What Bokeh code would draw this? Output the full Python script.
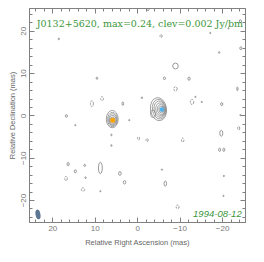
from bokeh.plotting import figure
from bokeh.models import Range1d, LinearAxis, Label, FixedTicker, CustomLabelingPolicy
from bokeh.embed import file_html
from bokeh.resources import INLINE

# ---------------- data (mas) ----------------
title_text = "J0132+5620, max=0.24, clev=0.002 Jy/bm"
date_text = "1994-08-12"
tick_values = [20, 10, 0, -10, -20]
tick_labels = ["20", "10", "0", "\u221210", "\u221220"]

# source A (orange marker) nested contour levels
srcA_x = [6.0, 5.95, 5.9, 5.9, 5.9, 5.9]
srcA_y = [-0.75, -0.85, -0.9, -1.0, -1.05, -1.05]
srcA_w = [2.8, 2.3, 1.9, 1.5, 1.1, 0.7]
srcA_h = [4.1, 3.4, 2.8, 2.2, 1.6, 1.0]
srcA_peak = (5.9, -1.05)

# source B (blue marker) nested contour levels
srcB_x = [-4.9, -5.05, -5.2, -5.35, -5.5, -5.6, -5.7, -3.6]
srcB_y = [1.6, 1.6, 1.6, 1.55, 1.5, 1.5, 1.5, 0.5]
srcB_w = [3.8, 3.2, 2.7, 2.2, 1.7, 1.2, 0.8, 1.2]
srcB_h = [5.5, 4.7, 3.9, 3.1, 2.4, 1.7, 1.0, 1.8]
srcB_peak = (-5.7, 1.5)

# low-level noise contours: solid (positive) and dashed (negative)
pos_x = [18.6, -17.1, -19.2, -8.9, 9.6, -6.3, -12.1, -23.5, 3.5, -1.0, -15.1, -19.8,
         16.8, 2.0, 14.7, 6.2, 6.2, -19.7, -19.3, -20.3, 16.4, 14.7, 12.5, 8.8, 12.3,
         4.2, 3.1, -5.7, -6.5, 8.8, -20.3, -20.2, -2.4, -24.2, -21.4, -24.3, -24.2, -13.6]
pos_y = [18.2, 19.6, 15.0, 11.8, 8.9, 8.9, 8.8, 6.4, 2.9, 4.3, 3.3, 2.8,
         0.0, -1.0, -2.2, -4.5, -7.0, -4.1, -8.0, -8.0, -11.4, -13.1, -11.7, -12.3, -14.6,
         -13.6, -15.7, -12.7, -16.0, -17.8, -14.2, -18.9, 25.3, 22.4, 20.7, 16.0, 0.2, 4.5]
pos_w = [0.3, 0.3, 0.3, 1.3, 0.4, 0.5, 0.5, 0.3, 0.4, 0.3, 0.3, 0.5,
         0.5, 0.3, 0.3, 0.3, 0.3, 0.7, 0.45, 0.45, 0.5, 0.5, 0.4, 0.9, 0.3,
         0.6, 0.6, 0.3, 0.6, 0.3, 0.3, 0.3, 0.6, 0.5, 0.3, 0.5, 0.3, 0.3]
pos_h = [0.4, 0.3, 0.4, 1.4, 0.5, 0.6, 0.8, 0.9, 0.8, 0.4, 0.3, 0.7,
         0.6, 0.3, 0.3, 0.4, 0.4, 1.4, 0.8, 0.8, 0.8, 0.7, 0.5, 2.7, 0.4,
         0.9, 0.8, 0.3, 1.2, 0.3, 0.3, 0.3, 0.8, 0.7, 0.3, 0.7, 0.3, 0.3]

neg_x = [-5.5, -8.9, 8.4, 10.8, -12.8, -0.2, -2.2, -10.6, 16.9, 12.9, -9.4, -23.8]
neg_y = [18.9, 6.4, 4.1, 2.9, 3.3, -5.3, -5.7, -5.7, -14.8, -17.4, -21.5, -2.9]
neg_w = [0.5, 0.8, 0.7, 0.7, 0.8, 0.5, 0.5, 0.6, 0.6, 0.8, 0.7, 0.5]
neg_h = [0.7, 1.0, 0.9, 1.4, 1.2, 0.7, 0.7, 0.9, 1.0, 0.8, 0.9, 0.8]

# restoring beam
beam_x = [23.5]
beam_y = [-23.3]
beam_w = [1.0]
beam_h = [2.2]

# ---------------- figure ----------------
GREY = "#808080"
p = figure(frame_width=216, frame_height=214, output_backend="svg", toolbar_location=None,
           x_range=Range1d(25.5, -25.4), y_range=Range1d(-25.2, 25.4),
           min_border_left=29, min_border_top=8, min_border_right=8, min_border_bottom=32,
           background_fill_color="white", border_fill_color="white")
p.outline_line_color = GREY
p.grid.visible = False

p.ellipse(x=pos_x, y=pos_y, width=pos_w, height=pos_h, fill_color=None,
          line_color=GREY, line_width=0.8)
p.ellipse(x=neg_x, y=neg_y, width=neg_w, height=neg_h, fill_color=None,
          line_color=GREY, line_width=0.8, line_dash="2 1")
p.ellipse(x=srcA_x, y=srcA_y, width=srcA_w, height=srcA_h, fill_color=None,
          line_color="#8a8a8a", line_width=0.8)
p.ellipse(x=srcB_x, y=srcB_y, width=srcB_w, height=srcB_h, angle=0.15, fill_color=None,
          line_color="#8a8a8a", line_width=0.8)
p.scatter(x=[srcA_peak[0]], y=[srcA_peak[1]], size=5, color="#ffa500", line_color=None)
p.scatter(x=[srcB_peak[0]], y=[srcB_peak[1]], size=4.5, color="#4fb3f0", line_color=None)
p.ellipse(x=beam_x, y=beam_y, width=beam_w, height=beam_h, angle=0.15,
          fill_color="#5d7896", line_color="#4a6480", line_width=0.6)

ticker = FixedTicker(ticks=tick_values, minor_ticks=list(range(-24, 25, 2)))
overrides = dict(zip(tick_values, tick_labels))
no_labels = CustomLabelingPolicy(code="for (const i of indices) { indices.unset(i) }\nreturn indices")


def style(ax, labels=True):
    ax.ticker = ticker
    ax.axis_line_color = GREY
    ax.major_tick_line_color = GREY
    ax.minor_tick_line_color = GREY
    ax.major_tick_in = 5
    ax.major_tick_out = 0
    ax.minor_tick_in = 3
    ax.minor_tick_out = 0
    ax.major_label_overrides = overrides
    ax.major_label_text_font = "Liberation Sans"
    ax.major_label_text_font_size = "8px"
    ax.major_label_text_color = "#777777"
    if labels:
        ax.axis_label_text_font = "Liberation Sans"
        ax.axis_label_text_font_size = "7.5px"
        ax.axis_label_text_font_style = "normal"
        ax.axis_label_text_color = "#666666"
    else:
        ax.major_label_policy = no_labels
        ax.major_label_standoff = 0


style(p.xaxis[0])
p.xaxis[0].axis_label = "Relative Right Ascension (mas)"
p.xaxis[0].major_label_standoff = 3
p.xaxis[0].axis_label_standoff = 4
style(p.yaxis[0])
p.yaxis[0].axis_label = "Relative Declination (mas)"
p.yaxis[0].major_label_orientation = "vertical"
p.yaxis[0].major_label_standoff = 3
p.yaxis[0].axis_label_standoff = 2

top = LinearAxis()
style(top, labels=False)
p.add_layout(top, "above")
right = LinearAxis()
style(right, labels=False)
p.add_layout(right, "right")

p.add_layout(Label(x=23.8, y=21.9, text=title_text, text_font="DejaVu Serif",
                   text_font_size="9.5px", text_color="#3c963c", text_align="left",
                   text_baseline="alphabetic"))
p.add_layout(Label(x=-24.5, y=-23.3, text=date_text, text_font="Liberation Sans",
                   text_font_size="9.5px", text_font_style="italic", text_color="#3c963c",
                   text_align="right", text_baseline="alphabetic"))

open("out.html", "w").write(file_html(p, INLINE))
